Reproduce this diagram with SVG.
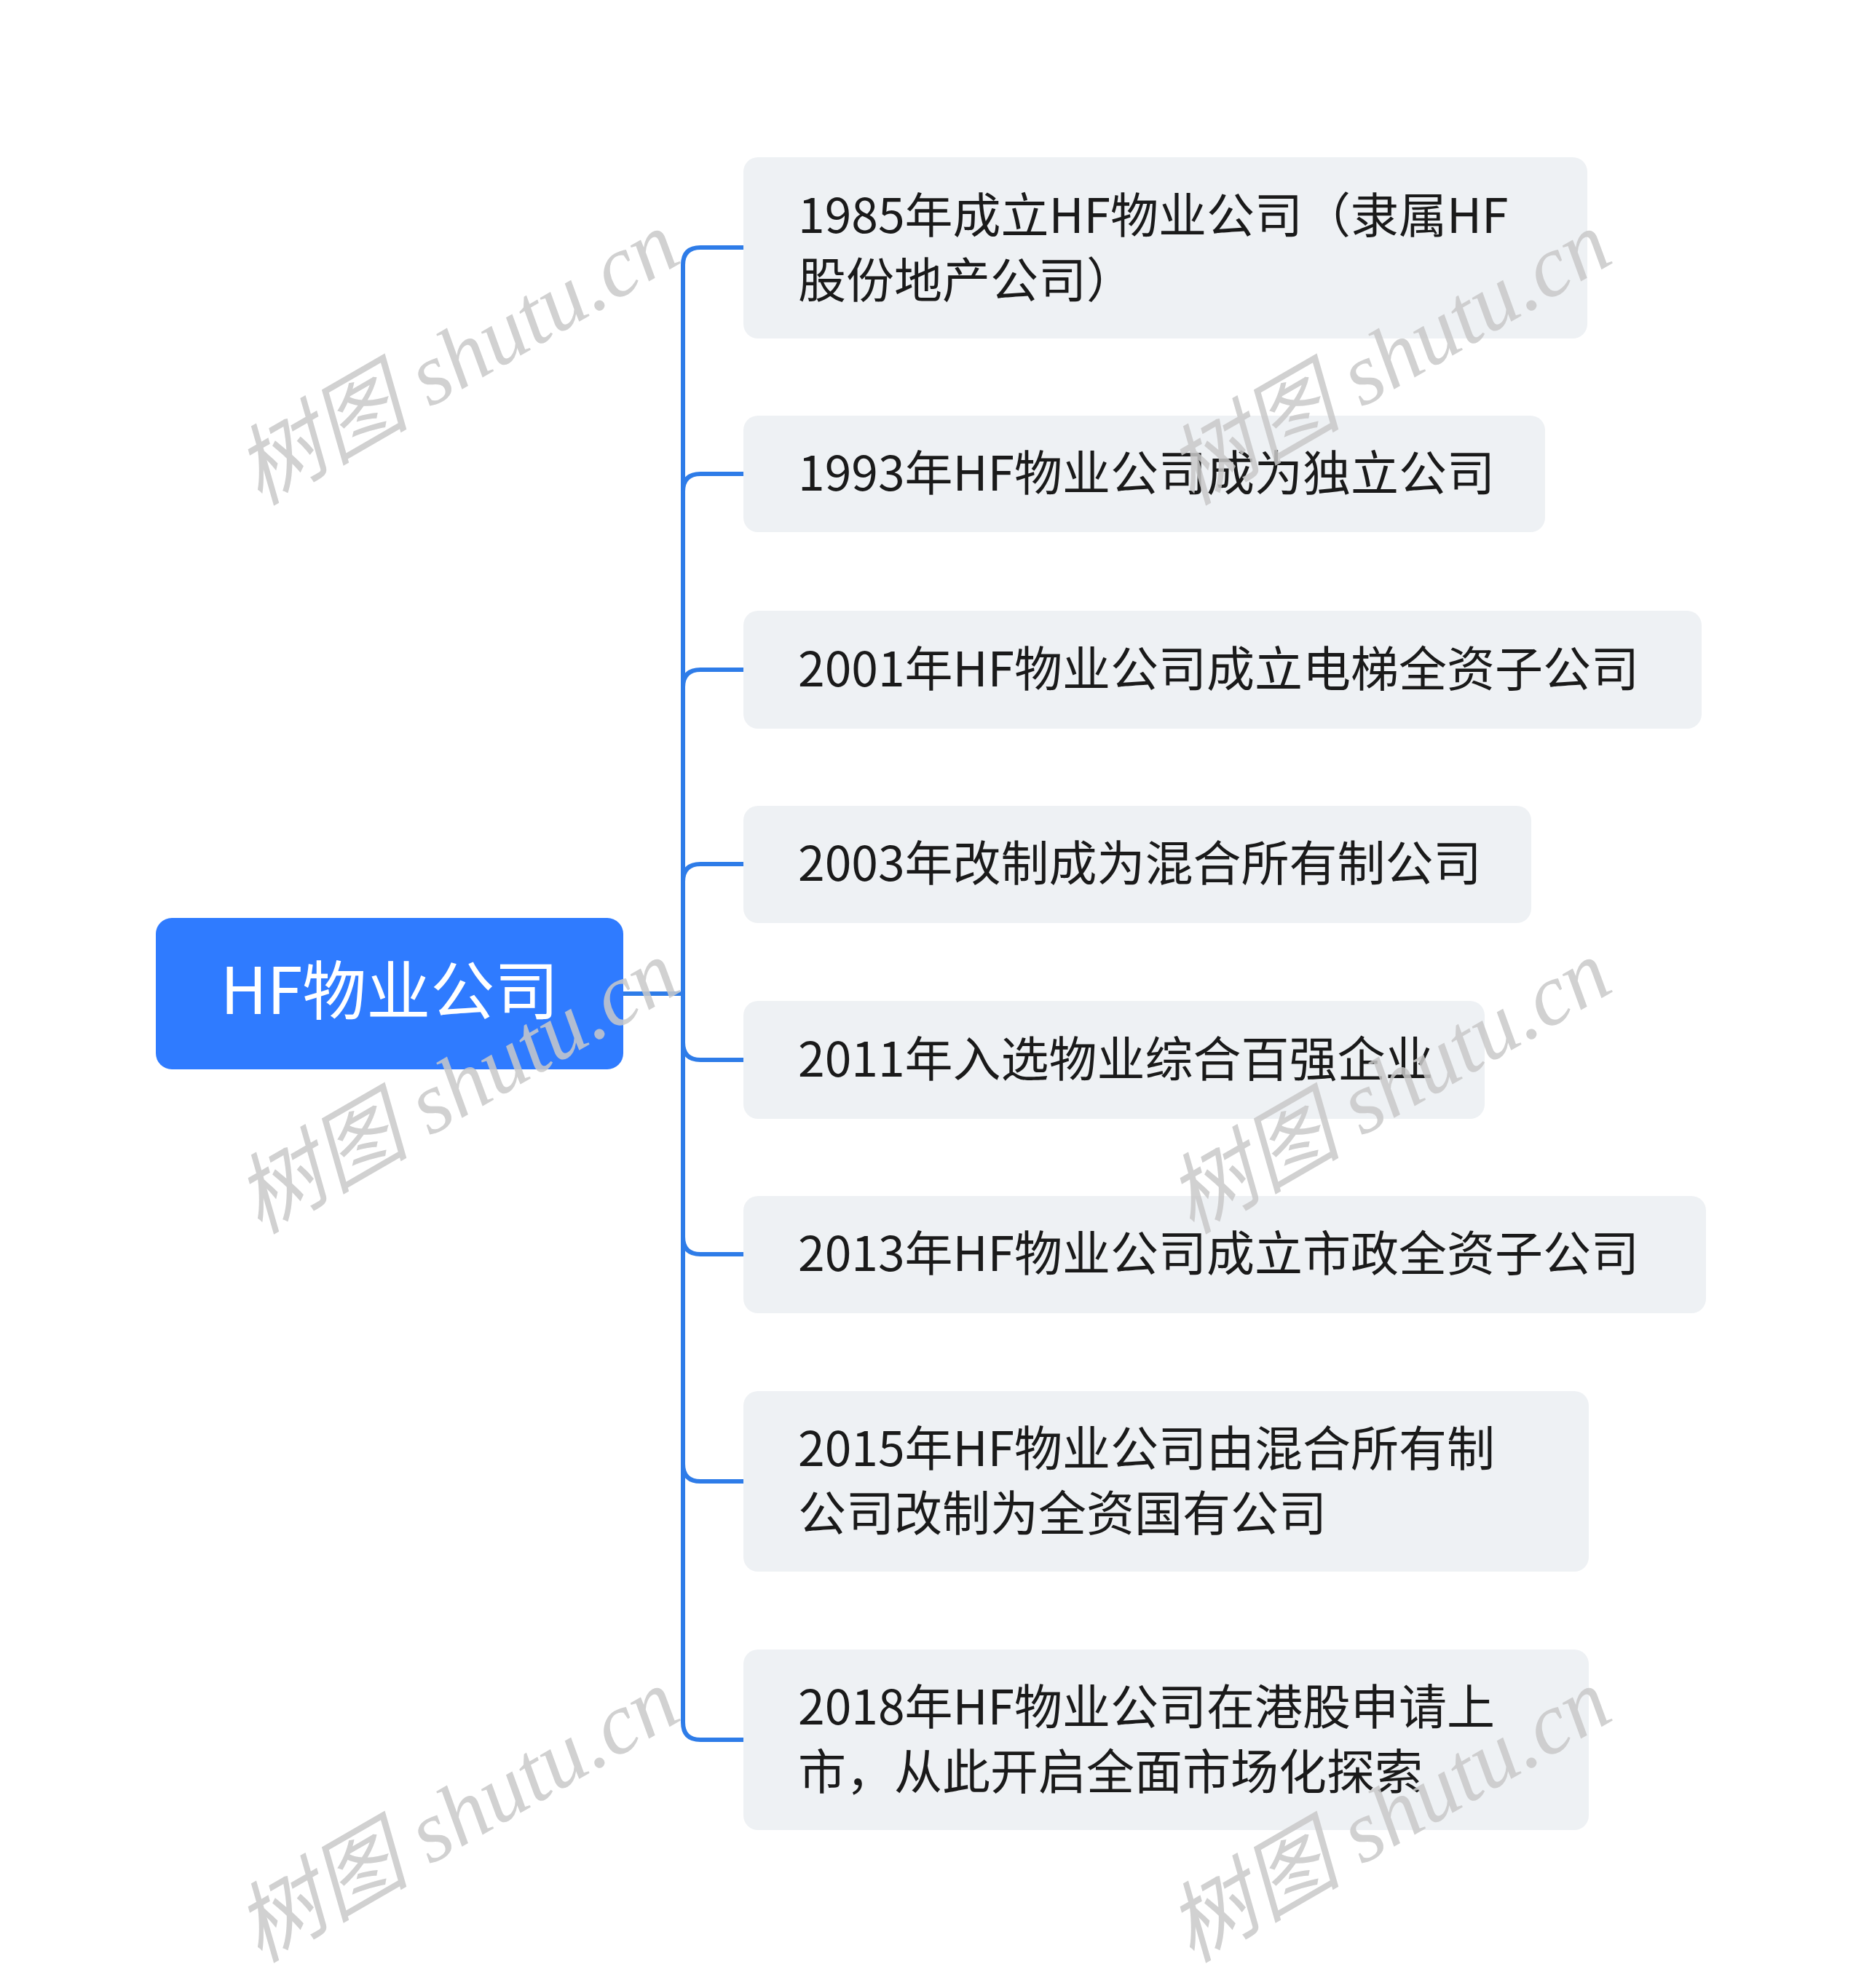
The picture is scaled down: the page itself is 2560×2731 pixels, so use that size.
<svg xmlns="http://www.w3.org/2000/svg" width="2560" height="2731" viewBox="0 0 2560 2731">
<style>
.bg{fill:#ffffff}
.root{fill:#2F7BFF}
.rootText{fill:#ffffff;font-family:"Noto Sans CJK SC","Noto Sans",sans-serif;font-size:88px}
.box{fill:#EEF1F4}
.t{fill:#1a1a1a;font-family:"Noto Sans CJK SC","Noto Sans",sans-serif;font-size:66px}
.conn{fill:none;stroke:#2E7CE8;stroke-width:6;stroke-linejoin:round}
.wm{fill:#c9c9c9;opacity:0.85;font-family:"Liberation Serif","Noto Sans CJK SC",serif;font-style:italic;font-size:120px}
</style>
<rect class="bg" x="0" y="0" width="2560" height="2731"/>
<g id="connectors">
<path class="conn" d="M856 1365 H938 V364 Q938 340 962 340 H1022"/>
<path class="conn" d="M856 1365 H938 V675 Q938 651 962 651 H1022"/>
<path class="conn" d="M856 1365 H938 V944 Q938 920 962 920 H1022"/>
<path class="conn" d="M856 1365 H938 V1211 Q938 1187 962 1187 H1022"/>
<path class="conn" d="M856 1365 H938 V1432 Q938 1456 962 1456 H1022"/>
<path class="conn" d="M856 1365 H938 V1699 Q938 1723 962 1723 H1022"/>
<path class="conn" d="M856 1365 H938 V2011 Q938 2035 962 2035 H1022"/>
<path class="conn" d="M856 1365 H938 V2366 Q938 2390 962 2390 H1022"/>
</g>
<g id="root">
<rect class="root" x="214" y="1261" width="642" height="208" rx="22"/>
<text class="rootText" x="535" y="1393" text-anchor="middle">HF物业公司</text>
</g>
<g id="n1">
<rect class="box" x="1021" y="216" width="1159" height="249" rx="20"/>
<text class="t" x="1096" y="320">1985年成立HF物业公司（隶属HF</text>
<text class="t" x="1096" y="409">股份地产公司）</text>
</g>
<g id="n2">
<rect class="box" x="1021" y="571" width="1101" height="160" rx="20"/>
<text class="t" x="1096" y="674">1993年HF物业公司成为独立公司</text>
</g>
<g id="n3">
<rect class="box" x="1021" y="839" width="1316" height="162" rx="20"/>
<text class="t" x="1096" y="943">2001年HF物业公司成立电梯全资子公司</text>
</g>
<g id="n4">
<rect class="box" x="1021" y="1107" width="1082" height="161" rx="20"/>
<text class="t" x="1096" y="1210">2003年改制成为混合所有制公司</text>
</g>
<g id="n5">
<rect class="box" x="1021" y="1375" width="1018" height="162" rx="20"/>
<text class="t" x="1096" y="1479">2011年入选物业综合百强企业</text>
</g>
<g id="n6">
<rect class="box" x="1021" y="1643" width="1322" height="161" rx="20"/>
<text class="t" x="1096" y="1746">2013年HF物业公司成立市政全资子公司</text>
</g>
<g id="n7">
<rect class="box" x="1021" y="1911" width="1161" height="248" rx="20"/>
<text class="t" x="1096" y="2014">2015年HF物业公司由混合所有制</text>
<text class="t" x="1096" y="2103">公司改制为全资国有公司</text>
</g>
<g id="n8">
<rect class="box" x="1021" y="2266" width="1161" height="248" rx="20"/>
<text class="t" x="1096" y="2369">2018年HF物业公司在港股申请上</text>
<text class="t" x="1096" y="2458">市，从此开启全面市场化探索</text>
</g>
<g id="watermarks">
<text class="wm" text-anchor="middle" transform="translate(648 527) rotate(-30)">树图 shutu.cn</text>
<text class="wm" text-anchor="middle" transform="translate(1928 527) rotate(-30)">树图 shutu.cn</text>
<text class="wm" text-anchor="middle" transform="translate(648 1528) rotate(-30)">树图 shutu.cn</text>
<text class="wm" text-anchor="middle" transform="translate(1928 1528) rotate(-30)">树图 shutu.cn</text>
<text class="wm" text-anchor="middle" transform="translate(648 2529) rotate(-30)">树图 shutu.cn</text>
<text class="wm" text-anchor="middle" transform="translate(1928 2529) rotate(-30)">树图 shutu.cn</text>
</g>
</svg>
